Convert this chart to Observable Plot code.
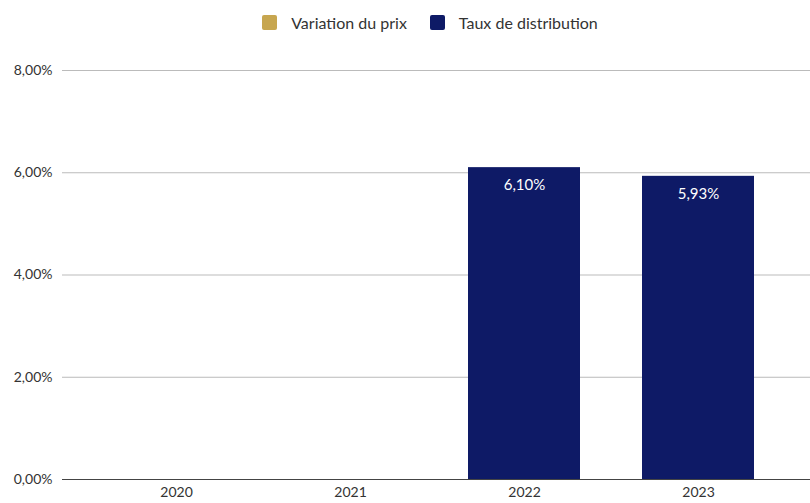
<!DOCTYPE html>
<html>
<head>
<meta charset="utf-8">
<script src="https://cdn.jsdelivr.net/npm/d3@7"></script>
<script src="https://cdn.jsdelivr.net/npm/@observablehq/plot@0.6"></script>
<style>
  html, body { margin: 0; padding: 0; background: #fff; }
  body { width: 810px; font-family: Lato, "Open Sans", sans-serif; }
  #legend { height: 44px; display: flex; justify-content: center; align-items: center; gap: 23px; font-size: 16px; color: #333; padding-left: 50px; box-sizing: border-box; }
  .item { display: flex; align-items: center; gap: 14px; }
  .sw { width: 15px; height: 15px; border-radius: 2px; display: inline-block; }
</style>
</head>
<body>
<div id="legend"></div>
<div id="chart"></div>
<script>
const years = ["2020", "2021", "2022", "2023"];
const variationPrix = [null, null, null, null];
const tauxDistribution = [null, null, 6.10, 5.93];
const yTicks = [0, 2, 4, 6, 8];
const seriesNames = ["Variation du prix", "Taux de distribution"];
const seriesColors = ["#C7A64F", "#0E1A66"];

const legend = document.getElementById("legend");
seriesNames.forEach((n, i) => {
  const it = document.createElement("span");
  it.className = "item";
  it.innerHTML = `<span class="sw" style="background:${seriesColors[i]}"></span><span>${n}</span>`;
  legend.appendChild(it);
});

const data = years.map((y, i) => ({year: y, value: tauxDistribution[i]})).filter(d => d.value != null);
const fmt = v => v.toFixed(2).replace(".", ",") + "%";

const chart = Plot.plot({
  width: 810,
  height: 459,
  marginTop: 26,
  marginBottom: 24,
  marginLeft: 62,
  marginRight: 0,
  style: {fontFamily: "Lato, 'Open Sans', sans-serif", fontSize: "14px", color: "#333"},
  x: {domain: years, range: [118.5, 756.5], paddingInner: 0.354, paddingOuter: 0, label: null, tickSize: 0, tickPadding: 8},
  y: {domain: [0, 8], ticks: yTicks, label: null, tickSize: 0, tickPadding: 10, tickFormat: fmt},
  marks: [
    Plot.gridY(yTicks.filter(t => t > 0), {stroke: "#bbb", strokeOpacity: 1, strokeWidth: 1}),
    Plot.barY(data, {x: "year", y: "value", fill: seriesColors[1]}),
    Plot.ruleY([0], {stroke: "#444", strokeWidth: 1}),
    Plot.text(data, {x: "year", y: "value", text: d => fmt(d.value), fill: "#fff", dy: 18, fontSize: 15})
  ]
});
document.getElementById("chart").appendChild(chart);
</script>
</body>
</html>
